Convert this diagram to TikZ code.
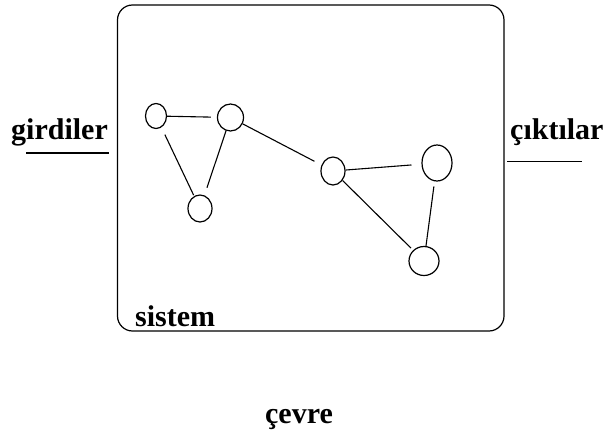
\documentclass[tikz,border=0pt]{standalone}
\usepackage{fontspec}
\setmainfont{Liberation Serif}
\usetikzlibrary{shapes.geometric}
\usetikzlibrary{positioning}

\begin{document}
\begin{tikzpicture}
[
	x								= 1pt,
	y								= -1pt,
	%
	% the little parts inside the system
	part/.style						=
	{
		draw,
		ellipse,
		line width					= 1.2pt,
		inner sep					= 0pt,
		minimum width				= 21pt,
		minimum height				= 25pt
	},
	link/.style						= {line width = 1.1pt},
	label/.style					=
	{
		font						= \bfseries\fontsize{30}{34}\selectfont,
		inner sep					= 0pt
	},
]
	\useasboundingbox (0,0) rectangle (611,434);

	% the system
	\draw [line width = 1.2pt, rounded corners = 15pt] (117.5,5) rectangle (504,331);

	\node (p1) [part] at (156,116) {};
	\node (p2) [part, minimum width = 26pt, minimum height = 27pt] at (230.5,117.5) {};
	\node (p3) [part, minimum width = 24pt, minimum height = 27pt] at (200,208.5) {};
	\node (p4) [part, minimum width = 24pt, minimum height = 28pt] at (333,171) {};
	\node (p5) [part, minimum width = 30pt, minimum height = 36pt] at (437,163) {};
	\node (p6) [part, minimum width = 30pt, minimum height = 29pt] at (424,261) {};

	\draw [link, shorten > = 6pt] (p1) -- (p2);
	\draw [link, shorten < = 8pt, shorten > = 1pt] (p1) -- (p3);
	\draw [link, shorten > = 8pt] (p2) -- (p3);
	\draw [link, shorten > = 8pt] (p2) -- (p4);
	\draw [link, shorten > = 10pt] (p4) -- (p5);
	\draw [link, shorten > = 3pt] (p4) -- (p6);
	\draw [link, shorten < = 5pt] (p5) -- (p6);

	% texts
	\node (in)  [label, anchor = base west] at (11,139)  {girdiler};
	\node (out) [label, anchor = base west] at (510,139) {çıktılar};
	\node (sys) [label, anchor = base west] at (135,326) {sistem};
	\node (env) [label, anchor = base]      at (299,423) {çevre};

	\draw [line width = 1.2pt] (26,153) -- (109,153);
	\draw [line width = 1.2pt] (507,161.5) -- (582,161.5);

\end{tikzpicture}
\end{document}
